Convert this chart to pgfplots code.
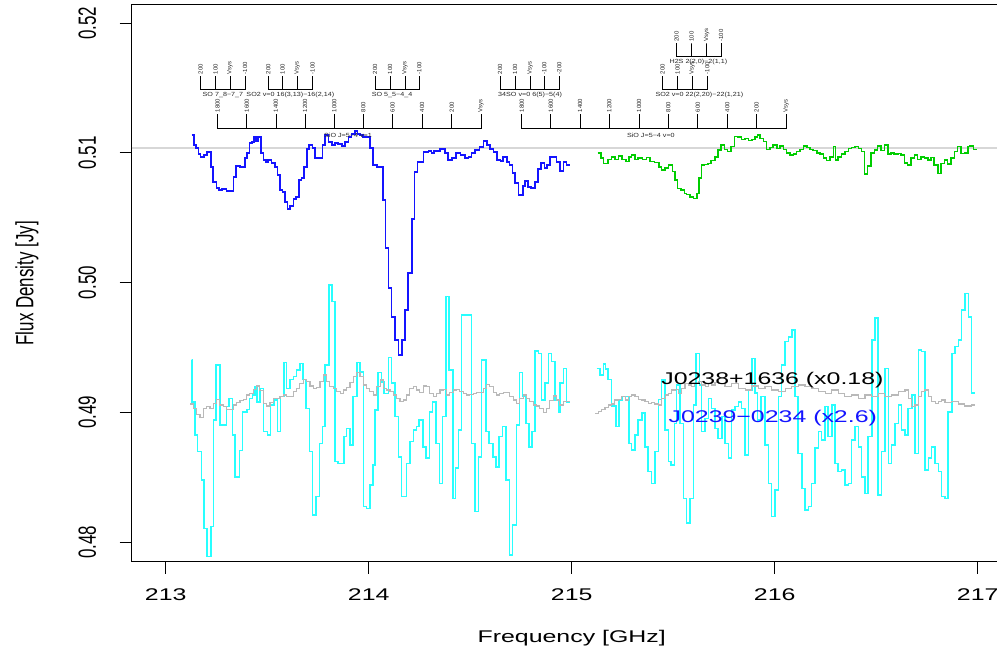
\documentclass[border=0pt]{standalone}
\usepackage{fontspec}
\setmainfont{Liberation Sans}
\usepackage{pgfplots}
\usepackage{pgfplotstable}
\pgfplotsset{compat=1.18}
\definecolor{rblue}{RGB}{20,20,255}
\definecolor{rgreen}{RGB}{0,205,0}
\definecolor{rcyan}{RGB}{40,255,255}
\definecolor{rgrey}{RGB}{185,185,185}
\definecolor{rlgrey}{RGB}{215,215,215}

\pgfplotstableread{
x y
213.128 0.51138
213.139 0.51061
213.149 0.51037
213.161 0.50991
213.172 0.50968
213.189 0.50983
213.202 0.51007
213.222 0.50891
213.234 0.50775
213.251 0.50729
213.264 0.50714
213.276 0.50722
213.300 0.50706
213.333 0.50814
213.346 0.50899
213.366 0.50891
213.391 0.50960
213.399 0.50999
213.412 0.51076
213.424 0.51084
213.435 0.51122
213.445 0.51091
213.456 0.51122
213.468 0.50999
213.481 0.50945
213.494 0.50929
213.505 0.50945
213.522 0.50922
213.538 0.50891
213.550 0.50829
213.563 0.50714
213.576 0.50698
213.589 0.50621
213.599 0.50567
213.612 0.50590
213.629 0.50644
213.642 0.50660
213.658 0.50791
213.668 0.50806
213.681 0.50891
213.695 0.51030
213.707 0.51061
213.724 0.51037
213.735 0.50960
213.773 0.51061
213.785 0.51138
213.801 0.51084
213.818 0.51061
213.834 0.51076
213.850 0.51068
213.867 0.51053
213.883 0.51084
213.900 0.51122
213.916 0.51145
213.933 0.51168
213.944 0.51145
213.957 0.51138
213.973 0.51122
214.006 0.51037
214.020 0.50906
214.042 0.50891
214.069 0.50637
214.082 0.50267
214.097 0.49958
214.113 0.49735
214.130 0.49558
214.146 0.49442
214.163 0.49558
214.179 0.49789
214.195 0.50074
214.212 0.50490
214.225 0.50852
214.241 0.50929
214.269 0.51007
214.294 0.51014
214.310 0.50999
214.322 0.51014
214.351 0.51030
214.376 0.50999
214.392 0.50945
214.409 0.50960
214.430 0.50999
214.453 0.50983
214.474 0.50960
214.491 0.50968
214.507 0.50999
214.524 0.51022
214.545 0.51045
214.565 0.51091
214.584 0.51061
214.598 0.51030
214.614 0.51007
214.631 0.50945
214.650 0.50937
214.663 0.50968
214.680 0.50929
214.693 0.50906
214.709 0.50845
214.721 0.50768
214.737 0.50675
214.759 0.50745
214.770 0.50783
214.786 0.50737
214.800 0.50729
214.819 0.50775
214.833 0.50876
214.849 0.50922
214.865 0.50884
214.877 0.50906
214.893 0.50968
214.909 0.50968
214.926 0.50929
214.942 0.50860
214.959 0.50929
214.975 0.50906
214.992 0.50906
}\blueT

\pgfplotstableread{
x y
215.128 0.51001
215.144 0.50958
215.156 0.50919
215.180 0.50950
215.197 0.50970
215.213 0.50950
215.230 0.50976
215.249 0.50950
215.266 0.50932
215.282 0.50970
215.295 0.50983
215.312 0.50950
215.328 0.50958
215.348 0.50950
215.369 0.50965
215.386 0.50932
215.407 0.50927
215.430 0.50893
215.443 0.50868
215.460 0.50881
215.476 0.50906
215.496 0.50855
215.509 0.50791
215.522 0.50726
215.538 0.50714
215.555 0.50688
215.566 0.50680
215.583 0.50662
215.599 0.50649
215.616 0.50688
215.627 0.50804
215.640 0.50906
215.653 0.50911
215.670 0.50919
215.686 0.50940
215.706 0.50970
215.722 0.51022
215.736 0.51060
215.752 0.51027
215.768 0.51009
215.785 0.51048
215.801 0.51125
215.818 0.51120
215.837 0.51104
215.854 0.51112
215.870 0.51094
215.887 0.51104
215.903 0.51120
215.916 0.51137
215.928 0.51112
215.944 0.51086
215.960 0.51027
215.977 0.51042
215.993 0.51060
216.010 0.51035
216.026 0.51053
216.043 0.51027
216.059 0.51001
216.075 0.50983
216.092 0.50991
216.108 0.51009
216.125 0.51027
216.141 0.51053
216.158 0.51042
216.174 0.51027
216.190 0.51017
216.207 0.51001
216.223 0.50991
216.240 0.50958
216.256 0.50940
216.272 0.50970
216.289 0.51048
216.300 0.50945
216.313 0.50970
216.330 0.50991
216.346 0.51009
216.363 0.51035
216.379 0.51042
216.396 0.51048
216.412 0.51035
216.428 0.51009
216.442 0.50837
216.458 0.50899
216.474 0.51001
216.491 0.51022
216.507 0.51053
216.524 0.51017
216.540 0.51060
216.557 0.50991
216.573 0.51001
216.589 0.50991
216.606 0.50996
216.622 0.50983
216.639 0.50924
216.655 0.50906
216.671 0.50958
216.688 0.50983
216.704 0.50950
216.721 0.50970
216.737 0.50958
216.754 0.50945
216.770 0.50965
216.786 0.50906
216.803 0.50842
216.819 0.50919
216.836 0.50945
216.852 0.50914
216.868 0.50958
216.885 0.51009
216.901 0.51048
216.918 0.50996
216.934 0.51001
216.951 0.51048
216.962 0.51053
216.979 0.51027
216.995 0.51027
}\greenT

\pgfplotstableread{
x y
213.128 0.49403
213.129 0.49082
213.144 0.48825
213.156 0.48697
213.177 0.48479
213.189 0.48106
213.202 0.47888
213.222 0.48119
213.235 0.48941
213.248 0.49365
213.267 0.48903
213.300 0.49044
213.313 0.49108
213.330 0.48825
213.341 0.48504
213.363 0.48705
213.379 0.49005
213.399 0.49023
213.412 0.49108
213.428 0.49134
213.440 0.49198
213.451 0.49082
213.465 0.49185
213.481 0.48851
213.501 0.48825
213.517 0.49057
213.534 0.49095
213.550 0.48851
213.566 0.49121
213.583 0.49383
213.596 0.49185
213.612 0.49254
213.629 0.49275
213.645 0.49326
213.662 0.49378
213.675 0.49254
213.691 0.49031
213.708 0.48697
213.724 0.48209
213.740 0.48350
213.757 0.48761
213.773 0.48890
213.786 0.49365
213.803 0.49981
213.819 0.49853
213.834 0.48620
213.850 0.48607
213.878 0.48813
213.891 0.48877
213.908 0.48748
213.924 0.49121
213.941 0.49385
213.957 0.49313
213.974 0.48273
213.990 0.48260
214.006 0.48440
214.020 0.48594
214.031 0.49018
214.047 0.49306
214.064 0.49236
214.075 0.49146
214.097 0.49424
214.113 0.49224
214.130 0.48967
214.146 0.48658
214.162 0.48350
214.187 0.48607
214.203 0.48774
214.220 0.48864
214.236 0.48890
214.249 0.48941
214.266 0.48735
214.282 0.48646
214.299 0.49005
214.315 0.49082
214.331 0.48761
214.348 0.48453
214.364 0.48967
214.381 0.49892
214.397 0.49326
214.414 0.48337
214.427 0.48569
214.442 0.48864
214.458 0.49750
214.507 0.48761
214.524 0.48235
214.540 0.48658
214.556 0.49403
214.578 0.48851
214.594 0.48761
214.611 0.48658
214.627 0.48581
214.643 0.48813
214.660 0.48890
214.676 0.48479
214.693 0.47900
214.709 0.48132
214.729 0.48903
214.742 0.49306
214.758 0.49121
214.775 0.48915
214.791 0.48735
214.803 0.48851
214.819 0.49475
214.836 0.49455
214.852 0.49095
214.868 0.49224
214.885 0.49455
214.901 0.49391
214.918 0.49095
214.934 0.49005
214.942 0.49224
214.959 0.49339
214.975 0.49082
214.992 0.49082
}\cyanL

\pgfplotstableread{
x y
215.123 0.49339
215.139 0.49288
215.156 0.49373
215.167 0.49332
215.180 0.49254
215.197 0.49049
215.217 0.48890
215.233 0.49095
215.249 0.49121
215.266 0.49121
215.282 0.48761
215.295 0.48710
215.312 0.48825
215.328 0.48941
215.345 0.48997
215.361 0.48735
215.377 0.48543
215.394 0.48453
215.410 0.48697
215.427 0.49100
215.443 0.49249
215.460 0.48864
215.476 0.48620
215.489 0.48594
215.506 0.48915
215.517 0.49211
215.533 0.48915
215.550 0.48337
215.566 0.48145
215.583 0.48337
215.599 0.49057
215.612 0.49455
215.629 0.49211
215.640 0.48851
215.657 0.48954
215.673 0.49108
215.689 0.49031
215.706 0.48877
215.722 0.48800
215.739 0.48967
215.755 0.48761
215.772 0.48646
215.788 0.49018
215.804 0.49044
215.821 0.49082
215.837 0.49031
215.854 0.48671
215.870 0.49172
215.887 0.49416
215.903 0.49147
215.916 0.48941
215.932 0.49121
215.952 0.48748
215.969 0.48453
215.985 0.48196
216.001 0.48402
216.018 0.49121
216.034 0.49365
216.051 0.49545
216.067 0.49583
216.084 0.49635
216.100 0.49121
216.116 0.48684
216.133 0.48414
216.149 0.48247
216.166 0.48273
216.182 0.48453
216.199 0.48723
216.215 0.48851
216.231 0.48787
216.248 0.49044
216.264 0.48813
216.281 0.49057
216.297 0.48607
216.313 0.48543
216.330 0.48556
216.346 0.48440
216.363 0.48453
216.379 0.48787
216.396 0.48890
216.412 0.48735
216.428 0.48504
216.445 0.48376
216.461 0.48813
216.478 0.49558
216.494 0.49725
216.510 0.48363
216.527 0.48697
216.543 0.49339
216.560 0.48607
216.576 0.48748
216.593 0.48915
216.609 0.49057
216.625 0.48864
216.642 0.48825
216.658 0.49031
216.675 0.49134
216.691 0.48684
216.708 0.49481
216.724 0.49468
216.740 0.48556
216.757 0.48646
216.773 0.48735
216.790 0.48607
216.806 0.48543
216.822 0.48350
216.839 0.48337
216.855 0.49005
216.872 0.49455
216.888 0.49506
216.905 0.49558
216.921 0.49789
216.937 0.49917
216.954 0.49737
216.970 0.49147
216.987 0.49147
}\cyanR

\pgfplotstableread{
x y
213.120 0.49064
213.136 0.49031
213.153 0.48980
213.169 0.48962
213.185 0.49031
213.202 0.49044
213.218 0.49031
213.235 0.49069
213.251 0.49100
213.267 0.49057
213.284 0.49044
213.300 0.49023
213.317 0.49023
213.333 0.49057
213.350 0.49075
213.366 0.49090
213.382 0.49100
213.399 0.49134
213.415 0.49146
213.432 0.49177
213.448 0.49203
213.464 0.49167
213.481 0.49069
213.497 0.49049
213.514 0.49075
213.530 0.49108
213.546 0.49108
213.563 0.49121
213.579 0.49134
213.596 0.49121
213.612 0.49121
213.629 0.49159
213.645 0.49185
213.661 0.49224
213.678 0.49254
213.694 0.49236
213.711 0.49203
213.727 0.49185
213.744 0.49193
213.760 0.49236
213.777 0.49288
213.793 0.49236
213.809 0.49198
213.826 0.49185
213.842 0.49159
213.859 0.49146
213.875 0.49172
213.891 0.49193
213.908 0.49229
213.924 0.49275
213.941 0.49306
213.957 0.49275
213.973 0.49211
213.990 0.49185
214.006 0.49159
214.023 0.49134
214.039 0.49198
214.056 0.49249
214.072 0.49185
214.088 0.49172
214.105 0.49159
214.121 0.49134
214.138 0.49108
214.154 0.49082
214.170 0.49095
214.187 0.49134
214.203 0.49185
214.220 0.49198
214.236 0.49172
214.252 0.49152
214.269 0.49203
214.285 0.49198
214.301 0.49146
214.318 0.49121
214.334 0.49146
214.351 0.49172
214.367 0.49177
214.383 0.49134
214.400 0.49152
214.416 0.49172
214.433 0.49177
214.449 0.49159
214.465 0.49146
214.482 0.49134
214.498 0.49141
214.515 0.49146
214.531 0.49152
214.547 0.49152
214.564 0.49185
214.580 0.49218
214.597 0.49198
214.613 0.49152
214.629 0.49134
214.646 0.49146
214.662 0.49152
214.679 0.49152
214.695 0.49121
214.712 0.49095
214.728 0.49069
214.744 0.49108
214.761 0.49134
214.777 0.49108
214.794 0.49082
214.810 0.49057
214.826 0.49049
214.843 0.49031
214.859 0.48998
214.876 0.49031
214.892 0.49090
214.909 0.49126
214.925 0.49095
214.941 0.49057
214.958 0.49082
214.974 0.49082
214.990 0.49082
}\greyL

\pgfplotstableread{
x y
215.115 0.48992
215.131 0.49005
215.148 0.49023
215.164 0.49039
215.180 0.49057
215.197 0.49064
215.213 0.49095
215.230 0.49100
215.246 0.49121
215.263 0.49095
215.279 0.49121
215.295 0.49134
215.312 0.49121
215.328 0.49100
215.345 0.49095
215.361 0.49082
215.377 0.49069
215.394 0.49075
215.410 0.49064
215.427 0.49057
215.443 0.49108
215.460 0.49134
215.476 0.49147
215.492 0.49172
215.509 0.49177
215.525 0.49147
215.542 0.49185
215.558 0.49224
215.575 0.49211
215.591 0.49198
215.607 0.49224
215.624 0.49236
215.640 0.49211
215.657 0.49198
215.673 0.49224
215.689 0.49211
215.706 0.49229
215.722 0.49224
215.755 0.49198
215.788 0.49224
215.821 0.49185
215.854 0.49172
215.887 0.49203
215.919 0.49185
215.952 0.49198
215.985 0.49172
216.018 0.49159
216.051 0.49185
216.084 0.49198
216.116 0.49211
216.149 0.49198
216.182 0.49185
216.215 0.49159
216.248 0.49147
216.281 0.49172
216.313 0.49147
216.346 0.49121
216.379 0.49134
216.412 0.49108
216.445 0.49134
216.478 0.49121
216.510 0.49147
216.543 0.49121
216.576 0.49134
216.609 0.49159
216.642 0.49172
216.658 0.49108
216.675 0.49044
216.691 0.49057
216.708 0.49121
216.724 0.49159
216.740 0.49172
216.757 0.49121
216.773 0.49082
216.790 0.49069
216.806 0.49082
216.822 0.49095
216.839 0.49075
216.872 0.49082
216.905 0.49064
216.937 0.49049
216.970 0.49057
216.987 0.49057
}\greyR

\tikzset{
  vl/.style={font=\fontsize{6}{6}\selectfont, rotate=90, anchor=west, inner sep=0pt, text=black!85},
  gl/.style={font=\fontsize{6}{6}\selectfont, xscale=1.2, inner sep=0pt, text=black!85},
}

\begin{document}
\begin{tikzpicture}
\path[use as bounding box] (0,0) rectangle (997bp,652bp);
\begin{axis}[
  at={(131.7bp,90.3bp)}, anchor=south west,
  scale only axis, width=880bp, height=556.7bp,
  xmin=212.8325, xmax=217.1675, ymin=0.47849, ymax=0.521395,
  axis line style={line width=1bp, black},
  tick align=outside, major tick length=12bp,
  every tick/.style={line width=1bp, black},
  xtick={213,214,215,216,217}, ytick={0.48,0.49,0.50,0.51,0.52},
  xticklabels={213,214,215,216,217},
  yticklabels={0.48,0.49,0.50,0.51,0.52},
  xtick pos=bottom, ytick pos=left,
  minor tick num=0,
  every tick label/.append style={font=\fontsize{17}{17}\selectfont, xscale=1.47, inner sep=0pt},
  xticklabel style={anchor=north},
  yticklabel style={rotate=90, anchor=south},
  xticklabel shift=14.6bp, yticklabel shift=23.3bp,
  xlabel={Frequency [GHz]}, ylabel={Flux Density [Jy]},
  xlabel style={font=\fontsize{17}{17}\selectfont, xscale=1.47, at={(axis description cs:0.5,-0.1227)}, anchor=north, inner sep=0pt},
  ylabel style={font=\fontsize{17}{17}\selectfont, rotate=-90, xscale=1.47, rotate=90, at={(axis description cs:-0.119,0.5)}, anchor=center, inner sep=0pt},
]
% reference continuum level
\addplot[rlgrey, line width=1.4bp] coordinates {(212.8325,0.51037) (217.1675,0.51037)};
% J0239-0234 (x2.6), cyan
\addplot[rcyan, line width=1.6bp, const plot] table[x=x,y=y] {\cyanL};
\addplot[rcyan, line width=1.6bp, const plot] table[x=x,y=y] {\cyanR};
% J0238+1636 (x0.18), grey
\addplot[rgrey, line width=1.1bp, const plot] table[x=x,y=y] {\greyL};
\addplot[rgrey, line width=1.1bp, const plot] table[x=x,y=y] {\greyR};
% target spectra
\addplot[rblue, line width=1.6bp, const plot] table[x=x,y=y] {\blueT};
\addplot[rgreen, line width=1.6bp, const plot] table[x=x,y=y] {\greenT};

% line markers
\addplot[black, line width=0.8bp] coordinates {(213.172,0.51592)(213.172,0.51492)(213.246,0.51492)(213.246,0.51592)(213.246,0.51492)(213.317,0.51492)(213.317,0.51592)(213.317,0.51492)(213.391,0.51492)(213.391,0.51592)};
\addplot[black, line width=0.8bp] coordinates {(213.505,0.51592)(213.505,0.51492)(213.576,0.51492)(213.576,0.51592)(213.576,0.51492)(213.648,0.51492)(213.648,0.51592)(213.648,0.51492)(213.724,0.51492)(213.724,0.51592)};
\addplot[black, line width=0.8bp] coordinates {(214.031,0.51592)(214.031,0.51492)(214.105,0.51492)(214.105,0.51592)(214.105,0.51492)(214.179,0.51492)(214.179,0.51592)(214.179,0.51492)(214.249,0.51492)(214.249,0.51592)};
\addplot[black, line width=0.8bp] coordinates {(214.647,0.51592)(214.647,0.51492)(214.721,0.51492)(214.721,0.51592)(214.721,0.51492)(214.795,0.51492)(214.795,0.51592)(214.795,0.51492)(214.865,0.51492)(214.865,0.51592)(214.865,0.51492)(214.939,0.51492)(214.939,0.51592)};
\addplot[black, line width=0.8bp] coordinates {(215.448,0.51592)(215.448,0.51492)(215.522,0.51492)(215.522,0.51592)(215.522,0.51492)(215.594,0.51492)(215.594,0.51592)(215.594,0.51492)(215.668,0.51492)(215.668,0.51592)};
\addplot[black, line width=0.8bp] coordinates {(215.517,0.51844)(215.517,0.51741)(215.591,0.51741)(215.591,0.51844)(215.591,0.51741)(215.665,0.51741)(215.665,0.51844)(215.665,0.51741)(215.736,0.51741)(215.736,0.51844)};
\addplot[black, line width=0.8bp] coordinates {(213.256,0.51299)(213.256,0.51189)(213.399,0.51189)(213.399,0.51299)(213.399,0.51189)(213.543,0.51189)(213.543,0.51299)(213.543,0.51189)(213.686,0.51189)(213.686,0.51299)(213.686,0.51189)(213.831,0.51189)(213.831,0.51299)(213.831,0.51189)(213.973,0.51189)(213.973,0.51299)(213.973,0.51189)(214.118,0.51189)(214.118,0.51299)(214.118,0.51189)(214.263,0.51189)(214.263,0.51299)(214.263,0.51189)(214.409,0.51189)(214.409,0.51299)(214.409,0.51189)(214.553,0.51189)(214.553,0.51299)};
\addplot[black, line width=0.8bp] coordinates {(214.754,0.51299)(214.754,0.51189)(214.897,0.51189)(214.897,0.51299)(214.897,0.51189)(215.041,0.51189)(215.041,0.51299)(215.041,0.51189)(215.185,0.51189)(215.185,0.51299)(215.185,0.51189)(215.332,0.51189)(215.332,0.51299)(215.332,0.51189)(215.476,0.51189)(215.476,0.51299)(215.476,0.51189)(215.621,0.51189)(215.621,0.51299)(215.621,0.51189)(215.767,0.51189)(215.767,0.51299)(215.767,0.51189)(215.911,0.51189)(215.911,0.51299)(215.911,0.51189)(216.056,0.51189)(216.056,0.51299)};

% velocity labels
\node[vl] at (axis cs:213.172,0.51604) {200};
\node[vl] at (axis cs:213.246,0.51604) {100};
\node[vl] at (axis cs:213.317,0.51604) {Vsys};
\node[vl] at (axis cs:213.391,0.51604) {-100};
\node[vl] at (axis cs:213.505,0.51604) {200};
\node[vl] at (axis cs:213.576,0.51604) {100};
\node[vl] at (axis cs:213.648,0.51604) {Vsys};
\node[vl] at (axis cs:213.724,0.51604) {-100};
\node[vl] at (axis cs:214.031,0.51604) {200};
\node[vl] at (axis cs:214.105,0.51604) {100};
\node[vl] at (axis cs:214.179,0.51604) {Vsys};
\node[vl] at (axis cs:214.249,0.51604) {-100};
\node[vl] at (axis cs:214.647,0.51604) {200};
\node[vl] at (axis cs:214.721,0.51604) {100};
\node[vl] at (axis cs:214.795,0.51604) {Vsys};
\node[vl] at (axis cs:214.865,0.51604) {-100};
\node[vl] at (axis cs:214.939,0.51604) {-200};
\node[vl] at (axis cs:215.448,0.51604) {200};
\node[vl] at (axis cs:215.522,0.51604) {100};
\node[vl] at (axis cs:215.594,0.51604) {Vsys};
\node[vl] at (axis cs:215.668,0.51604) {-100};
\node[vl] at (axis cs:215.517,0.51856) {200};
\node[vl] at (axis cs:215.591,0.51856) {100};
\node[vl] at (axis cs:215.665,0.51856) {Vsys};
\node[vl] at (axis cs:215.736,0.51856) {-100};
\node[vl] at (axis cs:213.256,0.51311) {1800};
\node[vl] at (axis cs:213.399,0.51311) {1600};
\node[vl] at (axis cs:213.543,0.51311) {1400};
\node[vl] at (axis cs:213.686,0.51311) {1200};
\node[vl] at (axis cs:213.831,0.51311) {1000};
\node[vl] at (axis cs:213.973,0.51311) {800};
\node[vl] at (axis cs:214.118,0.51311) {600};
\node[vl] at (axis cs:214.263,0.51311) {400};
\node[vl] at (axis cs:214.409,0.51311) {200};
\node[vl] at (axis cs:214.553,0.51311) {Vsys};
\node[vl] at (axis cs:214.754,0.51311) {1800};
\node[vl] at (axis cs:214.897,0.51311) {1600};
\node[vl] at (axis cs:215.041,0.51311) {1400};
\node[vl] at (axis cs:215.185,0.51311) {1200};
\node[vl] at (axis cs:215.332,0.51311) {1000};
\node[vl] at (axis cs:215.476,0.51311) {800};
\node[vl] at (axis cs:215.621,0.51311) {600};
\node[vl] at (axis cs:215.767,0.51311) {400};
\node[vl] at (axis cs:215.911,0.51311) {200};
\node[vl] at (axis cs:216.056,0.51311) {Vsys};

% line names
\node[gl] at (axis cs:213.282,0.51446) {SO 7\_8−7\_7};
\node[gl] at (axis cs:213.614,0.51446) {SO2 v=0 16(3,13)−16(2,14)};
\node[gl] at (axis cs:214.115,0.51446) {SO 5\_5−4\_4};
\node[gl] at (axis cs:213.898,0.51138) {SiO J=5−4 v=1};
\node[gl] at (axis cs:214.795,0.51446) {34SO v=0 6(5)−5(4)};
\node[gl] at (axis cs:215.629,0.51446) {SO2 v=0 22(2,20)−22(1,21)};
\node[gl] at (axis cs:215.624,0.51698) {H2S 2(2,0)−2(1,1)};
\node[gl] at (axis cs:215.390,0.51138) {SiO J=5−4 v=0};

% source labels
\node[anchor=base west, inner sep=0pt, xscale=1.47, font=\fontsize{17}{17}\selectfont, text=black] at (axis cs:215.440,0.49211) {J0238+1636 (x0.18)};
\node[anchor=base west, inner sep=0pt, xscale=1.47, font=\fontsize{17}{17}\selectfont, text=rblue] at (axis cs:215.476,0.48918) {J0239−0234 (x2.6)};
\end{axis}
\end{tikzpicture}
\end{document}
